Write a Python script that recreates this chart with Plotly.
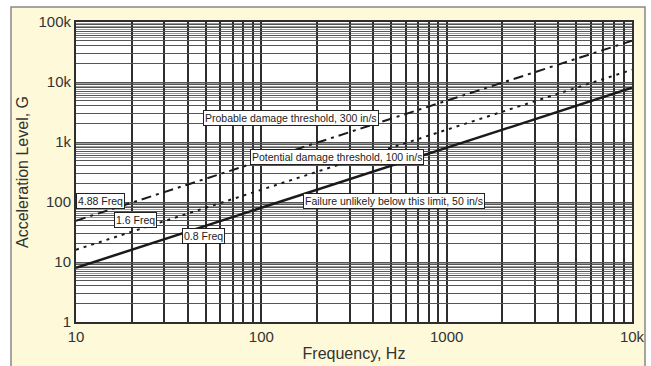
import plotly.graph_objects as go

# ---- data ----
freq = [10, 10000]
g_unlikely = [8, 8000]        # 0.8 Freq  (50 in/s)
g_potential = [16, 16000]     # 1.6 Freq  (100 in/s)
g_probable = [48.8, 48800]    # 4.88 Freq (300 in/s)

x_tick_vals = [10, 100, 1000, 10000]
x_tick_text = ["10", "100", "1000", "10k"]
y_tick_vals = [1, 10, 100, 1000, 10000, 100000]
y_tick_text = ["1", "10", "100", "1k", "10k", "100k"]

CREAM = "#FEF9D8"
INK = "#1a1a1a"
FONT = "Liberation Sans, Arial, sans-serif"

def decade_grid(lo_exp, hi_exp, mults):
    vals = []
    for e in range(lo_exp, hi_exp):
        for m in mults:
            vals.append(m * 10 ** e)
    vals.append(10 ** hi_exp)
    return vals

x_grid = decade_grid(1, 4, range(1, 10))
y_grid = decade_grid(0, 5, range(1, 10))
y_minor = decade_grid(0, 5, [5.5, 6.5, 7.5, 8.5, 9.5])

def labels(all_vals, lab_vals, lab_text):
    d = dict(zip(lab_vals, lab_text))
    return [d.get(v, "") for v in all_vals]

fig = go.Figure()
fig.add_trace(go.Scatter(x=freq, y=g_unlikely, mode="lines",
                         line=dict(color=INK, width=2.5), showlegend=False))
fig.add_trace(go.Scatter(x=freq, y=g_potential, mode="lines",
                         line=dict(color=INK, width=2, dash="3px,5px"), showlegend=False))
fig.add_trace(go.Scatter(x=freq, y=g_probable, mode="lines",
                         line=dict(color=INK, width=2, dash="10px,5px,3px,5px"), showlegend=False))

ann_style = dict(showarrow=False, xref="x", yref="y", xanchor="left", yanchor="middle",
                 bgcolor="white", bordercolor="#222", borderwidth=1, borderpad=1,
                 font=dict(family=FONT, size=10.5, color="#222"))
notes = [
    ("4.88 Freq", 1.0, 2.017),
    ("1.6 Freq", 1.205, 1.70),
    ("0.8 Freq", 1.572, 1.433),
    ("Probable damage threshold, 300 in/s", 1.685, 3.40),
    ("Potential damage threshold, 100 in/s", 1.939, 2.75),
    ("Failure unlikely below this limit, 50 in/s", 2.225, 2.017),
]
for t, x, y in notes:
    fig.add_annotation(text=t, x=x, y=y, **ann_style)

# outer frame (white strips outside cream card + gray border)
fig.add_shape(type="rect", xref="paper", yref="paper", x0=-0.3, x1=-0.1169, y0=-0.5, y1=1.5,
              fillcolor="white", line=dict(width=0), layer="above")
fig.add_shape(type="rect", xref="paper", yref="paper", x0=-0.3, x1=1.3, y0=1.05, y1=1.5,
              fillcolor="white", line=dict(width=0), layer="above")
fig.add_shape(type="rect", xref="paper", yref="paper", x0=1.0234, x1=1.3, y0=-0.5, y1=1.5,
              fillcolor="white", line=dict(width=0), layer="above")
fig.add_shape(type="rect", xref="paper", yref="paper", x0=-0.1169, x1=1.0234, y0=-0.3, y1=1.05,
              fillcolor="rgba(0,0,0,0)", line=dict(color="#888", width=1.5), layer="above")

fig.update_xaxes(type="log", range=[1, 4], tickvals=x_grid,
                 ticktext=labels(x_grid, x_tick_vals, x_tick_text),
                 showgrid=True, gridcolor="#2e2e2e", gridwidth=2,
                 showline=True, linecolor="#2e2e2e", linewidth=2, mirror=True,
                 ticks="", tickfont=dict(family=FONT, size=15, color="#333"),
                 title=dict(text="Frequency, Hz", standoff=4,
                            font=dict(family=FONT, size=16, color="#333")),
                 zeroline=False)
fig.update_yaxes(type="log", range=[0, 5], tickvals=y_grid,
                 ticktext=labels(y_grid, y_tick_vals, y_tick_text),
                 showgrid=True, gridcolor="#555", gridwidth=1,
                 minor=dict(tickvals=y_minor, showgrid=True, gridcolor="#9a9a9a", gridwidth=1, ticks=""),
                 showline=True, linecolor="#2e2e2e", linewidth=2, mirror=True,
                 ticks="", tickfont=dict(family=FONT, size=15, color="#333"),
                 title=dict(text="Acceleration Level, G", standoff=6,
                            font=dict(family=FONT, size=16, color="#333")),
                 zeroline=False)

fig.update_layout(width=651, height=366,
                  margin=dict(l=76, r=19, t=22, b=44, autoexpand=False),
                  paper_bgcolor=CREAM, plot_bgcolor="white",
                  showlegend=False)

fig.write_html("out.html")
